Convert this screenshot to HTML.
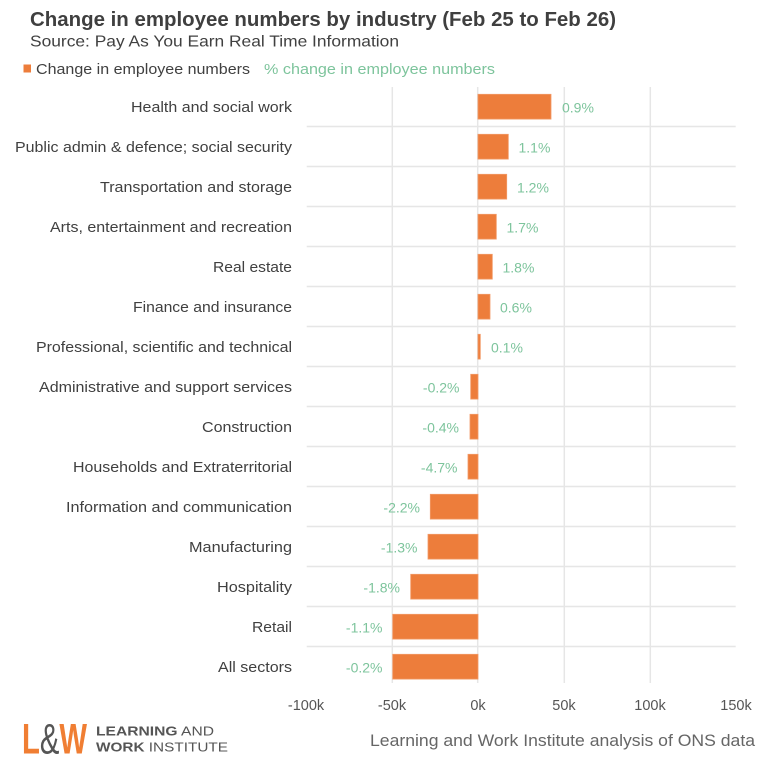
<!DOCTYPE html>
<html><head><meta charset="utf-8"><style>
html,body{margin:0;padding:0;background:#fff;}
svg{display:block;}
text{font-family:"Liberation Sans",sans-serif;}
</style></head><body>
<svg width="768" height="762" viewBox="0 0 768 762" xmlns="http://www.w3.org/2000/svg">
<rect width="768" height="762" fill="#fff"/>
<text x="30" y="26" font-size="20" font-weight="bold" fill="#3f3f3f" textLength="586" lengthAdjust="spacingAndGlyphs">Change in employee numbers by industry (Feb 25 to Feb 26)</text>
<text x="30" y="46.5" font-size="16" fill="#404040" textLength="369" lengthAdjust="spacingAndGlyphs">Source: Pay As You Earn Real Time Information</text>
<rect x="23.5" y="64.5" width="7.5" height="8" fill="#ED7D3B"/>
<text x="36" y="74" font-size="15" fill="#404040" textLength="214" lengthAdjust="spacingAndGlyphs">Change in employee numbers</text>
<text x="264" y="74" font-size="15" fill="#7DC49C" textLength="231" lengthAdjust="spacingAndGlyphs">% change in employee numbers</text>
<g stroke="#e6e6e6" stroke-width="1.5">
<line x1="392.3" y1="87" x2="392.3" y2="683"/>
<line x1="477.7" y1="87" x2="477.7" y2="683"/>
<line x1="564.3" y1="87" x2="564.3" y2="683"/>
<line x1="650.3" y1="87" x2="650.3" y2="683"/>
<line x1="306.7" y1="126.5" x2="735.7" y2="126.5"/>
<line x1="306.7" y1="166.5" x2="735.7" y2="166.5"/>
<line x1="306.7" y1="206.5" x2="735.7" y2="206.5"/>
<line x1="306.7" y1="246.5" x2="735.7" y2="246.5"/>
<line x1="306.7" y1="286.5" x2="735.7" y2="286.5"/>
<line x1="306.7" y1="326.5" x2="735.7" y2="326.5"/>
<line x1="306.7" y1="366.5" x2="735.7" y2="366.5"/>
<line x1="306.7" y1="406.5" x2="735.7" y2="406.5"/>
<line x1="306.7" y1="446.5" x2="735.7" y2="446.5"/>
<line x1="306.7" y1="486.5" x2="735.7" y2="486.5"/>
<line x1="306.7" y1="526.5" x2="735.7" y2="526.5"/>
<line x1="306.7" y1="566.5" x2="735.7" y2="566.5"/>
<line x1="306.7" y1="606.5" x2="735.7" y2="606.5"/>
<line x1="306.7" y1="646.5" x2="735.7" y2="646.5"/>
</g>
<g font-size="15" fill="#404040" text-anchor="end">
<text x="292" y="112" textLength="161" lengthAdjust="spacingAndGlyphs">Health and social work</text>
<text x="292" y="152" textLength="277" lengthAdjust="spacingAndGlyphs">Public admin &amp; defence; social security</text>
<text x="292" y="192" textLength="192" lengthAdjust="spacingAndGlyphs">Transportation and storage</text>
<text x="292" y="232" textLength="242" lengthAdjust="spacingAndGlyphs">Arts, entertainment and recreation</text>
<text x="292" y="272" textLength="79" lengthAdjust="spacingAndGlyphs">Real estate</text>
<text x="292" y="312" textLength="159" lengthAdjust="spacingAndGlyphs">Finance and insurance</text>
<text x="292" y="352" textLength="256" lengthAdjust="spacingAndGlyphs">Professional, scientific and technical</text>
<text x="292" y="392" textLength="253" lengthAdjust="spacingAndGlyphs">Administrative and support services</text>
<text x="292" y="432" textLength="90" lengthAdjust="spacingAndGlyphs">Construction</text>
<text x="292" y="472" textLength="219" lengthAdjust="spacingAndGlyphs">Households and Extraterritorial</text>
<text x="292" y="512" textLength="226" lengthAdjust="spacingAndGlyphs">Information and communication</text>
<text x="292" y="552" textLength="103" lengthAdjust="spacingAndGlyphs">Manufacturing</text>
<text x="292" y="592" textLength="75" lengthAdjust="spacingAndGlyphs">Hospitality</text>
<text x="292" y="632" textLength="40" lengthAdjust="spacingAndGlyphs">Retail</text>
<text x="292" y="672" textLength="74" lengthAdjust="spacingAndGlyphs">All sectors</text>
</g>
<g fill="#ED7D3B" stroke="#F29A66" stroke-width="0.8">
<rect x="478" y="94.3" width="73" height="24.8"/>
<rect x="478" y="134.3" width="30.3" height="24.8"/>
<rect x="478" y="174.3" width="28.7" height="24.8"/>
<rect x="478" y="214.3" width="18.3" height="24.8"/>
<rect x="478" y="254.3" width="14.3" height="24.8"/>
<rect x="478" y="294.3" width="12" height="24.8"/>
<rect x="478" y="334.3" width="2.3" height="24.8"/>
<rect x="470.7" y="374.3" width="7.3" height="24.8"/>
<rect x="470" y="414.3" width="8" height="24.8"/>
<rect x="468" y="454.3" width="10" height="24.8"/>
<rect x="430.3" y="494.3" width="47.7" height="24.8"/>
<rect x="428" y="534.3" width="50" height="24.8"/>
<rect x="410.7" y="574.3" width="67.3" height="24.8"/>
<rect x="392.7" y="614.3" width="85.3" height="24.8"/>
<rect x="392.7" y="654.3" width="85.3" height="24.8"/>
</g>
<g font-size="14" fill="#7DC49C">
<text x="562" y="112.5">0.9%</text>
<text x="518.5" y="152.5">1.1%</text>
<text x="517" y="192.5">1.2%</text>
<text x="506.5" y="232.5">1.7%</text>
<text x="502.5" y="272.5">1.8%</text>
<text x="500" y="312.5">0.6%</text>
<text x="491" y="352.5">0.1%</text>
<g text-anchor="end">
<text x="459.5" y="392.5">-0.2%</text>
<text x="459" y="432.5">-0.4%</text>
<text x="457.5" y="472.5">-4.7%</text>
<text x="420" y="512.5">-2.2%</text>
<text x="417.5" y="552.5">-1.3%</text>
<text x="400" y="592.5">-1.8%</text>
<text x="382.5" y="632.5">-1.1%</text>
<text x="382.5" y="672.5">-0.2%</text>
</g>
</g>
<g font-size="14.5" fill="#555" text-anchor="middle">
<text x="306" y="710">-100k</text>
<text x="392" y="710">-50k</text>
<text x="478" y="710">0k</text>
<text x="564" y="710">50k</text>
<text x="650" y="710">100k</text>
<text x="736" y="710">150k</text>
</g>
<text x="370" y="746" font-size="17" fill="#666" textLength="385" lengthAdjust="spacingAndGlyphs">Learning and Work Institute analysis of ONS data</text>
<text x="22" y="753.5" font-size="43" font-weight="bold" textLength="65" lengthAdjust="spacingAndGlyphs"><tspan fill="#F07E33">L</tspan><tspan fill="#555" font-weight="normal">&amp;</tspan><tspan fill="#F07E33">W</tspan></text>
<text x="96" y="735.5" font-size="13" fill="#555" textLength="118" lengthAdjust="spacingAndGlyphs"><tspan font-weight="bold">LEARNING</tspan> AND</text>
<text x="96" y="751.5" font-size="13" fill="#555" textLength="132" lengthAdjust="spacingAndGlyphs"><tspan font-weight="bold">WORK</tspan> INSTITUTE</text>
</svg>
</body></html>
